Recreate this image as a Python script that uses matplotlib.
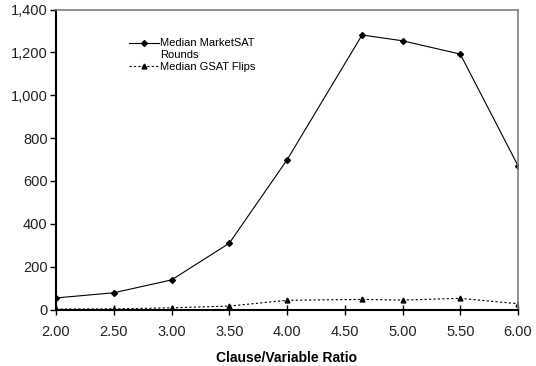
import matplotlib.pyplot as plt
from matplotlib.lines import Line2D
from matplotlib.ticker import FuncFormatter

plt.rcParams['font.family'] = ['Liberation Sans', 'DejaVu Sans']

ratio = [2.0, 2.5, 3.0, 3.5, 4.0, 4.65, 5.0, 5.5, 6.0]
market_rounds = [54, 78, 138, 309, 698, 1281, 1254, 1192, 671]
gsat_flips = [2, 3, 8, 16, 43, 47, 44, 52, 27]

fig = plt.figure(figsize=(5.36, 3.66), dpi=100)
ax = fig.add_axes([56/536, 1 - 309.5/366, 462/536, 300/366])

l1, = ax.plot(ratio, market_rounds, color='black', lw=0.8, marker='D', ms=3)
l2, = ax.plot(ratio, gsat_flips, color='black', lw=0.8, ls=(0, (2, 2)), marker='^', ms=3.5)

ax.set_xlim(2, 6)
ax.set_ylim(0, 1400)
ax.set_xticks([2.0, 2.5, 3.0, 3.5, 4.0, 4.5, 5.0, 5.5, 6.0])
ax.set_yticks(range(0, 1401, 200))
ax.xaxis.set_major_formatter(FuncFormatter(lambda v, p: f'{v:.2f}'))
ax.yaxis.set_major_formatter(FuncFormatter(lambda v, p: f'{int(v):,}'))
ax.tick_params(axis='x', direction='inout', length=7, width=1, labelsize=10.5, pad=8,
               labelcolor='#222222')
ax.tick_params(axis='y', direction='out', length=4, width=1, labelsize=10.5, pad=2,
               labelcolor='#222222')

for s in ['left', 'bottom']:
    ax.spines[s].set_linewidth(1.5)
    ax.spines[s].set_color('black')
for s in ['top', 'right']:
    ax.spines[s].set_linewidth(1.2)
    ax.spines[s].set_color('#808080')

ax.set_xlabel('Clause/Variable Ratio', fontsize=10, fontweight='bold', labelpad=8)

# first label wraps onto a second line, handle sits next to the first line
blank = Line2D([], [], color='none')
ax.legend([l1, blank, l2], ['Median MarketSAT', 'Rounds', 'Median GSAT Flips'],
          loc='upper left', bbox_to_anchor=(0.145, 0.922), frameon=False, fontsize=8,
          handlelength=2.7, handletextpad=0.15, labelspacing=0.14, borderpad=0)

fig.savefig('out.png', dpi=100)
